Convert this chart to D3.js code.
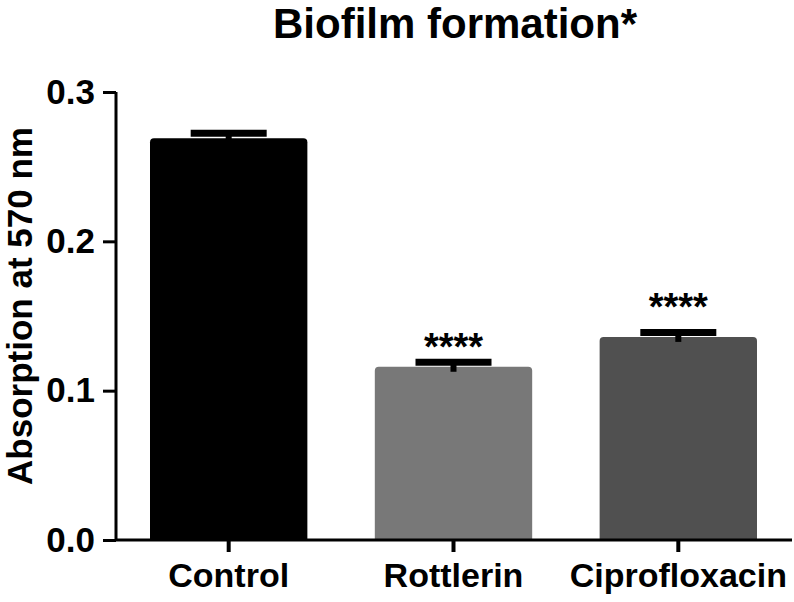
<!DOCTYPE html>
<html lang="en">
<head>
<meta charset="UTF-8">
<script src="https://cdn.jsdelivr.net/npm/d3@7"></script>
<style>
    body { margin: 0; background: #fff; }
    text { font-family: "Liberation Sans", Arial, sans-serif; font-weight: bold; }
</style>
</head>
<body>
<div id="container"></div>
<script>
    // data
    const groups = ["Control", "Rottlerin", "Ciprofloxacin"];
    const means = [0.269, 0.116, 0.136];
    const errs = [0.0034, 0.003, 0.003];
    const stars = ["", "****", "****"];
    const starLevels = [null, 0.129, 0.156];
    const colors = ["#000000", "#787878", "#505050"];
    const yTicks = [0.0, 0.1, 0.2, 0.3];

    const width = 794, height = 602;
    const mLeft = 116, mRight = 792, mTop = 92, mBottom = 540;

    const svg = d3.select("#container").append("svg")
        .attr("width", width).attr("height", height);

    const x = d3.scaleBand().domain(groups).range([150, 757]).paddingInner(0.3).paddingOuter(0);
    const y = d3.scaleLinear().domain([0, 0.3]).range([mBottom, mTop]);

    // bars with slightly rounded top
    groups.forEach((g, i) => {
        const cx = x(g) + x.bandwidth() / 2;
        const x0 = x(g), x1 = x(g) + x.bandwidth(), yt = y(means[i]), r = 4;
        svg.append("path")
            .attr("d", `M${x0},${mBottom}V${yt + r}Q${x0},${yt} ${x0 + r},${yt}H${x1 - r}Q${x1},${yt} ${x1},${yt + r}V${mBottom}Z`)
            .attr("fill", colors[i]);
        // error bar
        const ye = y(means[i] + errs[i]);
        svg.append("line").attr("x1", cx).attr("x2", cx).attr("y1", yt + 5).attr("y2", ye)
            .attr("stroke", "#000").attr("stroke-width", 6);
        svg.append("line").attr("x1", cx - 38).attr("x2", cx + 38).attr("y1", ye).attr("y2", ye)
            .attr("stroke", "#000").attr("stroke-width", 7);
        if (stars[i]) {
            svg.append("text").attr("x", cx).attr("y", y(starLevels[i]) + 13)
                .attr("text-anchor", "middle").attr("font-size", 38)
                .text(stars[i]);
        }
    });

    // y axis
    const yAxis = svg.append("g").attr("transform", `translate(${mLeft},0)`)
        .call(d3.axisLeft(y).tickValues(yTicks).tickFormat(d3.format(".1f")).tickSize(13).tickPadding(8));
    yAxis.select(".domain").attr("d", `M0,${mTop}V${mBottom}`).attr("stroke-width", 3).attr("stroke", "#000");
    yAxis.selectAll(".tick line").attr("stroke-width", 3);
    yAxis.selectAll(".tick text").attr("font-size", 35).attr("fill", "#000");

    // x axis
    const xAxis = svg.append("g").attr("transform", `translate(0,${mBottom})`)
        .call(d3.axisBottom(x).tickSize(12).tickPadding(11));
    xAxis.select(".domain").attr("d", `M${mLeft},0H${mRight}`).attr("stroke-width", 3).attr("stroke", "#000");
    xAxis.selectAll(".tick line").attr("stroke-width", 4);
    xAxis.selectAll(".tick text").attr("font-size", 34).attr("fill", "#000");

    // title
    svg.append("text").attr("x", 455).attr("y", 38).attr("text-anchor", "middle")
        .attr("font-size", 42).text("Biofilm formation*");

    // y label
    svg.append("text").attr("transform", `translate(32,306) rotate(-90)`)
        .attr("text-anchor", "middle").attr("font-size", 35).text("Absorption at 570 nm");
</script>
</body>
</html>
